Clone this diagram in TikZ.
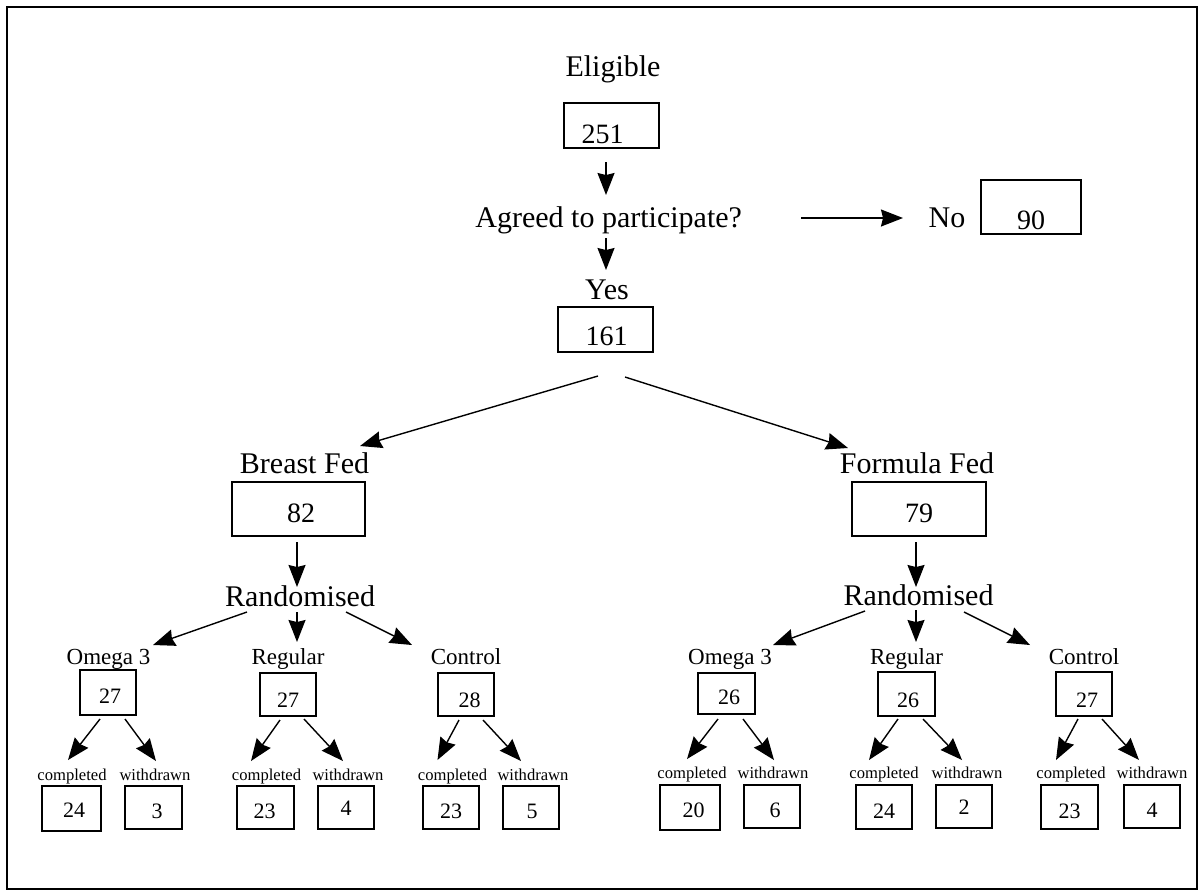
\documentclass[tikz,border=0pt]{standalone}
\usepackage{fontspec}
\setmainfont{Liberation Serif}
\usetikzlibrary{arrows.meta,calc}
\newcommand\bnum[3]{\raisebox{-#2pt}[0pt][0pt]{\makebox[0pt]{\kern#1pt\kern#1pt #3}}}
\begin{document}
\begin{tikzpicture}[x=0.5pt,y=-0.5pt,
  bigtxt/.style={font=\fontsize{15}{18}\selectfont, inner sep=0pt, anchor=base},
  midtxt/.style={font=\fontsize{11.5}{14}\selectfont, inner sep=0pt, anchor=base},
  smalltxt/.style={font=\fontsize{8.3}{10}\selectfont, inner sep=0pt, anchor=base},
  boxbase/.style={draw, line width=0.95pt, inner sep=0pt, rectangle},
  bigbox/.style={boxbase, font=\fontsize{14}{16}\selectfont},
  midbox/.style={boxbase, font=\fontsize{11}{13}\selectfont},
  arr/.style={line width=0.7pt, -{Stealth[length=11pt,width=8.5pt,inset=1pt]}},
  frame/.style={line width=0.85pt}
]
\useasboundingbox (0,0) rectangle (1203,895);
\draw[frame] (7,7) rectangle (1197,889);

% top
\node[bigtxt] (elig) at (613,76) {Eligible};
\node[bigbox, minimum width=47.5pt, minimum height=22.5pt] (b251) at (611.5,125.5) {\bnum{-4.5}{8.75}{251}};
\node[bigtxt, anchor=base west] (agreed) at (475,227) {Agreed to participate?};
\node[bigtxt] (no) at (947,227) {No};
\node[bigbox, minimum width=50pt, minimum height=27pt] (b90) at (1031,207) {\bnum{0}{11}{90}};
\node[bigtxt] (yes) at (607,299) {Yes};
\node[bigbox, minimum width=47.5pt, minimum height=22.5pt] (b161) at (605.5,329.5) {\bnum{0.5}{7.75}{161}};

\draw[arr] ($(b251.center)+(-5.5,36.5)$) -- ($(agreed.base west)+(131,-32)$);
\draw[arr] ($(agreed.base west)+(131,11)$) -- ($(yes.base)+(-1,-29)$);
\draw[arr] ($(agreed.base west)+(326,-9)$) -- ($(no.base)+(-44,-9)$);

% second level
\node[bigtxt] (breast) at (304.5,473) {Breast Fed};
\node[bigbox, minimum width=66.5pt, minimum height=27pt] (b82) at (298.5,509) {\bnum{1.25}{6.5}{82}};
\node[bigtxt] (formula) at (917,473) {Formula Fed};
\node[bigbox, minimum width=67pt, minimum height=27pt] (b79) at (919,509) {\bnum{0}{6.5}{79}};

\draw[arr] ($(b161.center)+(-7.5,46.5)$) -- ($(breast.base)+(55.5,-27)$);
\draw[arr] ($(b161.center)+(19.5,47.5)$) -- ($(formula.base)+(-69,-25)$);

\node[bigtxt] (randL) at (300,606) {Randomised};
\node[bigtxt] (randR) at (918.5,605) {Randomised};
\draw[arr] ($(b82.center)+(-1.5,33)$) -- ($(randL.base)+(-3,-19)$);
\draw[arr] ($(b79.center)+(-3,33)$) -- ($(randR.base)+(-2.5,-18)$);

% third level left
\node[midtxt] (omL) at (108.5,664) {Omega 3};
\node[midtxt] (rgL) at (288,664) {Regular};
\node[midtxt] (ctL) at (466,664) {Control};
\node[midbox, minimum width=28pt, minimum height=22.5pt] (bomL) at (108,692.5) {\bnum{1}{5.25}{27}};
\node[midbox, minimum width=28pt, minimum height=21.5pt] (brgL) at (288,694.5) {\bnum{0}{6.25}{27}};
\node[midbox, minimum width=28pt, minimum height=21.5pt] (bctL) at (466,694.5) {\bnum{1.75}{6.25}{28}};
\draw[arr] ($(randL.base)+(-53,6)$) -- ($(omL.base)+(44.5,-19)$);
\draw[arr] ($(randL.base)+(-3,6)$) -- ($(rgL.base)+(9,-22)$);
\draw[arr] ($(randL.base)+(46,6)$) -- ($(ctL.base)+(-54,-19)$);

% third level right
\node[midtxt] (omR) at (730,664) {Omega 3};
\node[midtxt] (rgR) at (906.5,664) {Regular};
\node[midtxt] (ctR) at (1084,664) {Control};
\node[midbox, minimum width=28.5pt, minimum height=20.5pt] (bomR) at (726.5,693.5) {\bnum{1.25}{5.25}{26}};
\node[midbox, minimum width=28.5pt, minimum height=22pt] (brgR) at (906.5,694) {\bnum{0.75}{6.5}{26}};
\node[midbox, minimum width=28pt, minimum height=22pt] (bctR) at (1084,694) {\bnum{1.5}{6.5}{27}};
\draw[arr] ($(randR.base)+(-53.5,6)$) -- ($(omR.base)+(43,-19)$);
\draw[arr] ($(randR.base)+(-2.5,5)$) -- ($(rgR.base)+(9.5,-22)$);
\draw[arr] ($(randR.base)+(45.5,7)$) -- ($(ctR.base)+(-54,-19)$);

% fourth level left
\node[smalltxt] (cOL) at (72,780) {completed};
\node[smalltxt] (wOL) at (155,780) {withdrawn};
\node[smalltxt] (cRL) at (266.5,780) {completed};
\node[smalltxt] (wRL) at (348,780) {withdrawn};
\node[smalltxt] (cCL) at (452.5,780) {completed};
\node[smalltxt] (wCL) at (533,780) {withdrawn};
\node[midbox, minimum width=29.5pt, minimum height=22.5pt] (b24L) at (71.5,808.5) {\bnum{1.25}{4.25}{24}};
\node[midbox, minimum width=28.5pt, minimum height=21.5pt] (b3L) at (153.5,807.5) {\bnum{1.75}{5.25}{3}};
\node[midbox, minimum width=28.5pt, minimum height=21.5pt] (b23L) at (265.5,807.5) {\bnum{-0.5}{5.25}{23}};
\node[midbox, minimum width=28pt, minimum height=21.5pt] (b4L) at (346,807.5) {\bnum{0}{3.75}{4}};
\node[midbox, minimum width=28pt, minimum height=21.5pt] (b23C) at (451,807.5) {\bnum{0}{5.25}{23}};
\node[midbox, minimum width=28pt, minimum height=21.5pt] (b5C) at (531,807.5) {\bnum{0.5}{5.25}{5}};
\draw[arr] ($(bomL.center)+(-8,26.5)$) -- ($(cOL.base)+(-4,-20)$);
\draw[arr] ($(bomL.center)+(17,26.5)$) -- ($(wOL.base)+(1,-19)$);
\draw[arr] ($(brgL.center)+(-8,25.5)$) -- ($(cRL.base)+(-15.5,-19)$);
\draw[arr] ($(brgL.center)+(16,24.5)$) -- ($(wRL.base)+(-5,-19)$);
\draw[arr] ($(bctL.center)+(-7,25.5)$) -- ($(cCL.base)+(-15,-20)$);
\draw[arr] ($(bctL.center)+(17,25.5)$) -- ($(wCL.base)+(-12,-19)$);

% fourth level right
\node[smalltxt] (cOR) at (692,778) {completed};
\node[smalltxt] (wOR) at (773,778) {withdrawn};
\node[smalltxt] (cRR) at (884,778) {completed};
\node[smalltxt] (wRR) at (967,778) {withdrawn};
\node[smalltxt] (cCR) at (1071,778) {completed};
\node[smalltxt] (wCR) at (1152,778) {withdrawn};
\node[midbox, minimum width=30pt, minimum height=22.5pt] (b20R) at (690,807.5) {\bnum{1.75}{4.75}{20}};
\node[midbox, minimum width=28pt, minimum height=21.5pt] (b6R) at (772,806.5) {\bnum{1.5}{5.25}{6}};
\node[midbox, minimum width=28pt, minimum height=22pt] (b24R) at (884,807) {\bnum{0}{5.5}{24}};
\node[midbox, minimum width=28pt, minimum height=21.5pt] (b2R) at (964,806.5) {\bnum{0}{3.75}{2}};
\node[midbox, minimum width=28.5pt, minimum height=22pt] (b23R) at (1069.5,807) {\bnum{0}{5.5}{23}};
\node[midbox, minimum width=28pt, minimum height=21.5pt] (b4R) at (1152,806.5) {\bnum{0}{5.25}{4}};
\draw[arr] ($(bomR.center)+(-8.5,25.5)$) -- ($(cOR.base)+(-5,-19)$);
\draw[arr] ($(bomR.center)+(16.5,25.5)$) -- ($(wOR.base)+(1,-18)$);
\draw[arr] ($(brgR.center)+(-8.5,25)$) -- ($(cRR.base)+(-15,-18)$);
\draw[arr] ($(brgR.center)+(16.5,25)$) -- ($(wRR.base)+(-5,-18)$);
\draw[arr] ($(bctR.center)+(-6,25)$) -- ($(cCR.base)+(-15,-18)$);
\draw[arr] ($(bctR.center)+(18,25)$) -- ($(wCR.base)+(-13,-18)$);
\end{tikzpicture}
\end{document}
